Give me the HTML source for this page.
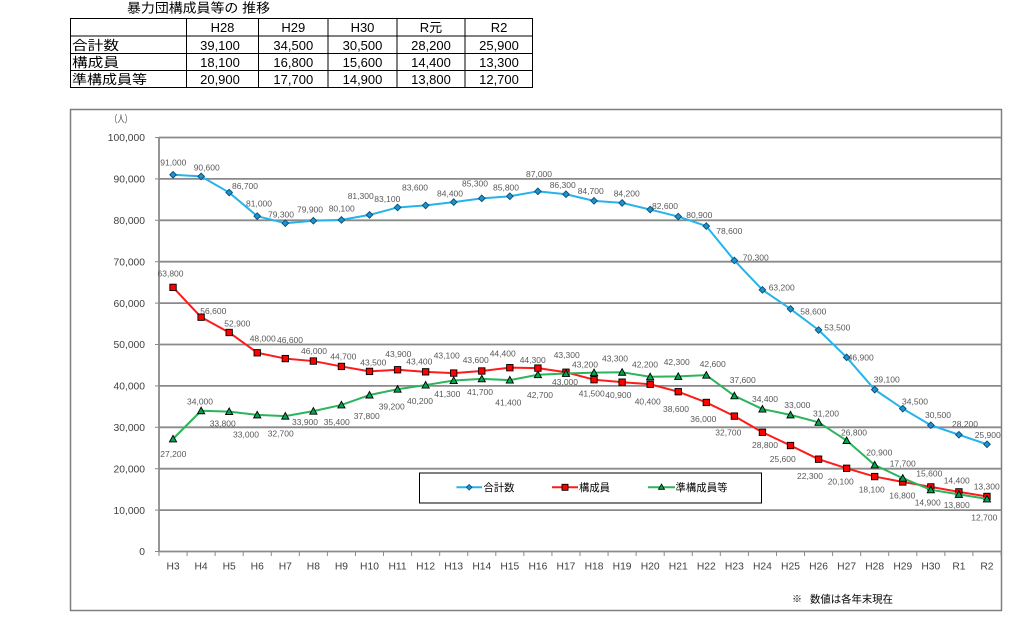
<!DOCTYPE html>
<html>
<head>
<meta charset="utf-8">
<style>
html,body{margin:0;padding:0;background:#fff;}
body{width:1024px;height:628px;overflow:hidden;}
svg{display:block;}
.jp{font-family:"Liberation Sans","Noto Sans CJK JP",sans-serif;}
.lb{font-family:"Liberation Sans",sans-serif;font-size:8.5px;fill:#595959;text-anchor:middle;}
.ax{font-family:"Liberation Sans",sans-serif;font-size:10.3px;fill:#404040;}
.tb{font-family:"Liberation Sans","Noto Sans CJK JP",sans-serif;font-size:13px;fill:#000;}
</style>
</head>
<body>
<svg width="1024" height="628" viewBox="0 0 1024 628" xmlns="http://www.w3.org/2000/svg">
<defs>
<marker id="mb" viewBox="-5 -5 10 10" refX="0" refY="0" markerWidth="10" markerHeight="10" markerUnits="userSpaceOnUse" overflow="visible">
<path d="M0,-3.3 L3.3,0 L0,3.3 L-3.3,0 Z" fill="#1b95d0" stroke="#0d4a70" stroke-width="0.9"/>
</marker>
<marker id="mr" viewBox="-5 -5 10 10" refX="0" refY="0" markerWidth="10" markerHeight="10" markerUnits="userSpaceOnUse" overflow="visible">
<rect x="-3.2" y="-3.2" width="6.4" height="6.4" fill="#ff0000" stroke="#000" stroke-width="0.9"/>
</marker>
<marker id="mg" viewBox="-5 -5 10 10" refX="0" refY="0" markerWidth="10" markerHeight="10" markerUnits="userSpaceOnUse" overflow="visible">
<path d="M0,-3.6 L3.6,3 L-3.6,3 Z" fill="#00a650" stroke="#000" stroke-width="0.9"/>
</marker>
</defs>
<rect width="1024" height="628" fill="#fff"/>

<!-- Table -->
<text class="jp" x="127" y="12.5" font-size="13" textLength="143" lengthAdjust="spacingAndGlyphs">暴力団構成員等の 推移</text>
<g stroke="#000" stroke-width="1" fill="none">
<rect x="70.5" y="18.5" width="462" height="69"/>
<line x1="70.5" y1="36" x2="532.5" y2="36"/>
<line x1="70.5" y1="53.5" x2="532.5" y2="53.5"/>
<line x1="70.5" y1="70.5" x2="532.5" y2="70.5"/>
<line x1="186.5" y1="18.5" x2="186.5" y2="87.5"/>
<line x1="258.5" y1="18.5" x2="258.5" y2="87.5"/>
<line x1="328" y1="18.5" x2="328" y2="87.5"/>
<line x1="397" y1="18.5" x2="397" y2="87.5"/>
<line x1="465" y1="18.5" x2="465" y2="87.5"/>
</g>
<g class="tb" text-anchor="middle">
<text x="222.5" y="32">H28</text>
<text x="293.3" y="32">H29</text>
<text x="362.5" y="32">H30</text>
<text x="431" y="32">R元</text>
<text x="499" y="32">R2</text>
<text x="220" y="50">39,100</text>
<text x="293.3" y="50">34,500</text>
<text x="362.5" y="50">30,500</text>
<text x="431" y="50">28,200</text>
<text x="499" y="50">25,900</text>
<text x="220" y="67">18,100</text>
<text x="293.3" y="67">16,800</text>
<text x="362.5" y="67">15,600</text>
<text x="431" y="67">14,400</text>
<text x="499" y="67">13,300</text>
<text x="220" y="84">20,900</text>
<text x="293.3" y="84">17,700</text>
<text x="362.5" y="84">14,900</text>
<text x="431" y="84">13,800</text>
<text x="499" y="84">12,700</text>
</g>
<g class="tb">
<text x="72" y="50" textLength="47" lengthAdjust="spacingAndGlyphs">合計数</text>
<text x="72" y="67" textLength="47" lengthAdjust="spacingAndGlyphs">構成員</text>
<text x="72" y="84" textLength="75" lengthAdjust="spacingAndGlyphs">準構成員等</text>
</g>

<!-- Chart frame -->
<rect x="70.5" y="109.5" width="931" height="501" fill="#fff" stroke="#7f7f7f" stroke-width="1.5"/>

<!-- Gridlines -->
<g stroke="#8a8a8a" stroke-width="1.8">
<line x1="159" y1="137.5" x2="1001" y2="137.5"/>
<line x1="159" y1="178.9" x2="1001" y2="178.9"/>
<line x1="159" y1="220.3" x2="1001" y2="220.3"/>
<line x1="159" y1="261.7" x2="1001" y2="261.7"/>
<line x1="159" y1="303.1" x2="1001" y2="303.1"/>
<line x1="159" y1="344.5" x2="1001" y2="344.5"/>
<line x1="159" y1="385.9" x2="1001" y2="385.9"/>
<line x1="159" y1="427.3" x2="1001" y2="427.3"/>
<line x1="159" y1="468.7" x2="1001" y2="468.7"/>
<line x1="159" y1="510.1" x2="1001" y2="510.1"/>
<line x1="159" y1="551.5" x2="1001" y2="551.5"/>
<line x1="159" y1="137" x2="159" y2="552"/>
</g>
<g stroke="#8a8a8a" stroke-width="1">
<line x1="155" y1="137.5" x2="159" y2="137.5"/>
<line x1="155" y1="178.9" x2="159" y2="178.9"/>
<line x1="155" y1="220.3" x2="159" y2="220.3"/>
<line x1="155" y1="261.7" x2="159" y2="261.7"/>
<line x1="155" y1="303.1" x2="159" y2="303.1"/>
<line x1="155" y1="344.5" x2="159" y2="344.5"/>
<line x1="155" y1="385.9" x2="159" y2="385.9"/>
<line x1="155" y1="427.3" x2="159" y2="427.3"/>
<line x1="155" y1="468.7" x2="159" y2="468.7"/>
<line x1="155" y1="510.1" x2="159" y2="510.1"/>
<line x1="155" y1="551.5" x2="159" y2="551.5"/>
<path d="M159,551 v5 M187.07,551 v5 M215.13,551 v5 M243.2,551 v5 M271.27,551 v5 M299.33,551 v5 M327.4,551 v5 M355.47,551 v5 M383.53,551 v5 M411.6,551 v5 M439.67,551 v5 M467.73,551 v5 M495.8,551 v5 M523.87,551 v5 M551.93,551 v5 M580,551 v5 M608.07,551 v5 M636.13,551 v5 M664.2,551 v5 M692.27,551 v5 M720.33,551 v5 M748.4,551 v5 M776.47,551 v5 M804.53,551 v5 M832.6,551 v5 M860.67,551 v5 M888.73,551 v5 M916.8,551 v5 M944.87,551 v5 M972.93,551 v5 M1001,551 v5"/>
</g>

<!-- Y labels -->
<g class="ax" text-anchor="end">
<text x="145" y="141.2">100,000</text>
<text x="145" y="182.6">90,000</text>
<text x="145" y="224">80,000</text>
<text x="145" y="265.4">70,000</text>
<text x="145" y="306.8">60,000</text>
<text x="145" y="348.2">50,000</text>
<text x="145" y="389.6">40,000</text>
<text x="145" y="431">30,000</text>
<text x="145" y="472.4">20,000</text>
<text x="145" y="513.8">10,000</text>
<text x="145" y="555.2">0</text>
</g>
<text class="jp" x="110" y="122.5" font-size="10" fill="#404040" textLength="22" lengthAdjust="spacingAndGlyphs">（人）</text>

<!-- X labels -->
<g class="ax" text-anchor="middle">
<text x="173.03" y="569.7">H3</text>
<text x="201.1" y="569.7">H4</text>
<text x="229.17" y="569.7">H5</text>
<text x="257.23" y="569.7">H6</text>
<text x="285.3" y="569.7">H7</text>
<text x="313.37" y="569.7">H8</text>
<text x="341.43" y="569.7">H9</text>
<text x="369.5" y="569.7">H10</text>
<text x="397.57" y="569.7">H11</text>
<text x="425.63" y="569.7">H12</text>
<text x="453.7" y="569.7">H13</text>
<text x="481.77" y="569.7">H14</text>
<text x="509.83" y="569.7">H15</text>
<text x="537.9" y="569.7">H16</text>
<text x="565.97" y="569.7">H17</text>
<text x="594.03" y="569.7">H18</text>
<text x="622.1" y="569.7">H19</text>
<text x="650.17" y="569.7">H20</text>
<text x="678.23" y="569.7">H21</text>
<text x="706.3" y="569.7">H22</text>
<text x="734.37" y="569.7">H23</text>
<text x="762.43" y="569.7">H24</text>
<text x="790.5" y="569.7">H25</text>
<text x="818.57" y="569.7">H26</text>
<text x="846.63" y="569.7">H27</text>
<text x="874.7" y="569.7">H28</text>
<text x="902.77" y="569.7">H29</text>
<text x="930.83" y="569.7">H30</text>
<text x="958.9" y="569.7">R1</text>
<text x="986.97" y="569.7">R2</text>
</g>

<!-- Series -->
<polyline fill="none" stroke="#26b3ea" stroke-width="2" stroke-linejoin="round" marker-start="url(#mb)" marker-mid="url(#mb)" marker-end="url(#mb)"
points="173.03,174.76 201.1,176.42 229.17,192.56 257.23,216.16 285.3,223.2 313.37,220.71 341.43,219.89 369.5,214.92 397.57,207.47 425.63,205.4 453.7,202.08 481.77,198.36 509.83,196.29 537.9,191.32 565.97,194.22 594.03,200.84 622.1,202.91 650.17,209.54 678.23,216.57 706.3,226.1 734.37,260.46 762.43,289.85 790.5,308.9 818.57,330.01 846.63,357.33 874.7,389.63 902.77,408.67 930.83,425.23 958.9,434.75 986.97,444.27"/>
<polyline fill="none" stroke="#ff1a1a" stroke-width="2" stroke-linejoin="round" marker-start="url(#mr)" marker-mid="url(#mr)" marker-end="url(#mr)"
points="173.03,287.37 201.1,317.18 229.17,332.49 257.23,352.78 285.3,358.58 313.37,361.06 341.43,366.44 369.5,371.41 397.57,369.75 425.63,371.82 453.7,373.07 481.77,371 509.83,367.68 537.9,368.1 565.97,372.24 594.03,379.69 622.1,382.17 650.17,384.24 678.23,391.7 706.3,402.46 734.37,416.12 762.43,432.27 790.5,445.52 818.57,459.18 846.63,468.29 874.7,476.57 902.77,481.95 930.83,486.92 958.9,491.88 986.97,496.44"/>
<polyline fill="none" stroke="#2bb45c" stroke-width="2" stroke-linejoin="round" marker-start="url(#mg)" marker-mid="url(#mg)" marker-end="url(#mg)"
points="173.03,438.89 201.1,410.74 229.17,411.57 257.23,414.88 285.3,416.12 313.37,411.15 341.43,404.94 369.5,395.01 397.57,389.21 425.63,385.07 453.7,380.52 481.77,378.86 509.83,380.1 537.9,374.72 565.97,373.48 594.03,372.65 622.1,372.24 650.17,376.79 678.23,376.38 706.3,375.14 734.37,395.84 762.43,409.08 790.5,414.88 818.57,422.33 846.63,440.55 874.7,464.97 902.77,478.22 930.83,489.81 958.9,494.37 986.97,498.92"/>

<!-- Blue labels -->
<g class="lb">
<text x="173.3" y="165.3">91,000</text>
<text x="206.7" y="170.7">90,600</text>
<text x="245" y="189">86,700</text>
<text x="259" y="206.3">81,000</text>
<text x="281" y="217.3">79,300</text>
<text x="310" y="212.3">79,900</text>
<text x="341.7" y="211.3">80,100</text>
<text x="360.7" y="199">81,300</text>
<text x="387.3" y="202">83,100</text>
<text x="415" y="190.7">83,600</text>
<text x="450" y="196.3">84,400</text>
<text x="475" y="186.3">85,300</text>
<text x="506" y="190.3">85,800</text>
<text x="539" y="177">87,000</text>
<text x="562.7" y="188">86,300</text>
<text x="590.7" y="194">84,700</text>
<text x="626.7" y="196.3">84,200</text>
<text x="665" y="209">82,600</text>
<text x="699.3" y="218">80,900</text>
<text x="729.3" y="234">78,600</text>
<text x="755.7" y="260.3">70,300</text>
<text x="781.7" y="290.3">63,200</text>
<text x="813.3" y="314.7">58,600</text>
<text x="837.3" y="330.3">53,500</text>
<text x="860.7" y="360.7">46,900</text>
<text x="886.7" y="382.3">39,100</text>
<text x="915" y="404.7">34,500</text>
<text x="938" y="418">30,500</text>
<text x="965" y="427">28,200</text>
<text x="987.7" y="438">25,900</text>
</g>

<!-- Red labels -->
<g class="lb">
<text x="170.5" y="276.3">63,800</text>
<text x="213.3" y="314">56,600</text>
<text x="237.3" y="326.3">52,900</text>
<text x="262.7" y="341.3">48,000</text>
<text x="290" y="343">46,600</text>
<text x="314" y="354">46,000</text>
<text x="343.3" y="359.7">44,700</text>
<text x="373.3" y="365.7">43,500</text>
<text x="398.3" y="357">43,900</text>
<text x="419.3" y="364.7">43,400</text>
<text x="446.7" y="358.3">43,100</text>
<text x="475.7" y="363">43,600</text>
<text x="502.7" y="356.3">44,400</text>
<text x="532.7" y="363">44,300</text>
<text x="566.7" y="358">43,300</text>
<text x="591.7" y="396.3">41,500</text>
<text x="618.3" y="398">40,900</text>
<text x="647.7" y="404.7">40,400</text>
<text x="676" y="412">38,600</text>
<text x="703.3" y="422">36,000</text>
<text x="728.3" y="435.3">32,700</text>
<text x="765" y="448">28,800</text>
<text x="782.7" y="462">25,600</text>
<text x="810" y="479">22,300</text>
<text x="840.7" y="484.7">20,100</text>
<text x="871.7" y="492.3">18,100</text>
<text x="902.3" y="498.7">16,800</text>
<text x="929.3" y="476.7">15,600</text>
<text x="956.7" y="483.7">14,400</text>
<text x="986.7" y="489.7">13,300</text>
</g>

<!-- Green labels -->
<g class="lb">
<text x="173.3" y="457">27,200</text>
<text x="200" y="404.7">34,000</text>
<text x="222.7" y="426.3">33,800</text>
<text x="246" y="437.3">33,000</text>
<text x="280.7" y="436.7">32,700</text>
<text x="305" y="425">33,900</text>
<text x="336.7" y="425">35,400</text>
<text x="366.7" y="419">37,800</text>
<text x="391.7" y="409.7">39,200</text>
<text x="420" y="404">40,200</text>
<text x="447.3" y="397">41,300</text>
<text x="480" y="395">41,700</text>
<text x="508.3" y="405.7">41,400</text>
<text x="540" y="398">42,700</text>
<text x="565" y="385">43,000</text>
<text x="585" y="367.3">43,200</text>
<text x="615" y="361.3">43,300</text>
<text x="645" y="367.3">42,200</text>
<text x="676.7" y="365">42,300</text>
<text x="712.7" y="367">42,600</text>
<text x="742.7" y="383">37,600</text>
<text x="765" y="402">34,400</text>
<text x="797.3" y="408">33,000</text>
<text x="826" y="416.3">31,200</text>
<text x="854" y="435.7">26,800</text>
<text x="879.3" y="455.3">20,900</text>
<text x="902.7" y="466.3">17,700</text>
<text x="927.7" y="505.7">14,900</text>
<text x="956.7" y="508">13,800</text>
<text x="984.3" y="520.7">12,700</text>
</g>

<!-- Legend -->
<rect x="419.5" y="473" width="342" height="30" fill="#fff" stroke="#000" stroke-width="1"/>
<line x1="456.5" y1="487.3" x2="482" y2="487.3" stroke="#26b3ea" stroke-width="2"/>
<path d="M469.2,484.5 L472,487.3 L469.2,490.1 L466.4,487.3 Z" fill="#1b95d0" stroke="#0d4a70" stroke-width="0.8"/>
<text class="jp" x="483.5" y="491" font-size="10.5" fill="#000" textLength="31" lengthAdjust="spacingAndGlyphs">合計数</text>
<line x1="552" y1="487.3" x2="578" y2="487.3" stroke="#ff1a1a" stroke-width="2"/>
<rect x="562" y="484.3" width="6" height="6" fill="#ff0000" stroke="#000" stroke-width="0.9"/>
<text class="jp" x="579" y="491" font-size="10.5" fill="#000" textLength="31" lengthAdjust="spacingAndGlyphs">構成員</text>
<line x1="648" y1="487.3" x2="675" y2="487.3" stroke="#2bb45c" stroke-width="2"/>
<path d="M661.5,484 L664.5,489.3 L658.5,489.3 Z" fill="#00a650" stroke="#000" stroke-width="0.8"/>
<text class="jp" x="675.5" y="491" font-size="10.5" fill="#000" textLength="52" lengthAdjust="spacingAndGlyphs">準構成員等</text>

<!-- Footnote -->
<text class="jp" x="797" y="602.5" font-size="10" fill="#000" text-anchor="middle">※</text>
<text class="jp" x="810" y="602.5" font-size="10.5" fill="#000" textLength="83" lengthAdjust="spacingAndGlyphs">数値は各年末現在</text>
</svg>
</body>
</html>
